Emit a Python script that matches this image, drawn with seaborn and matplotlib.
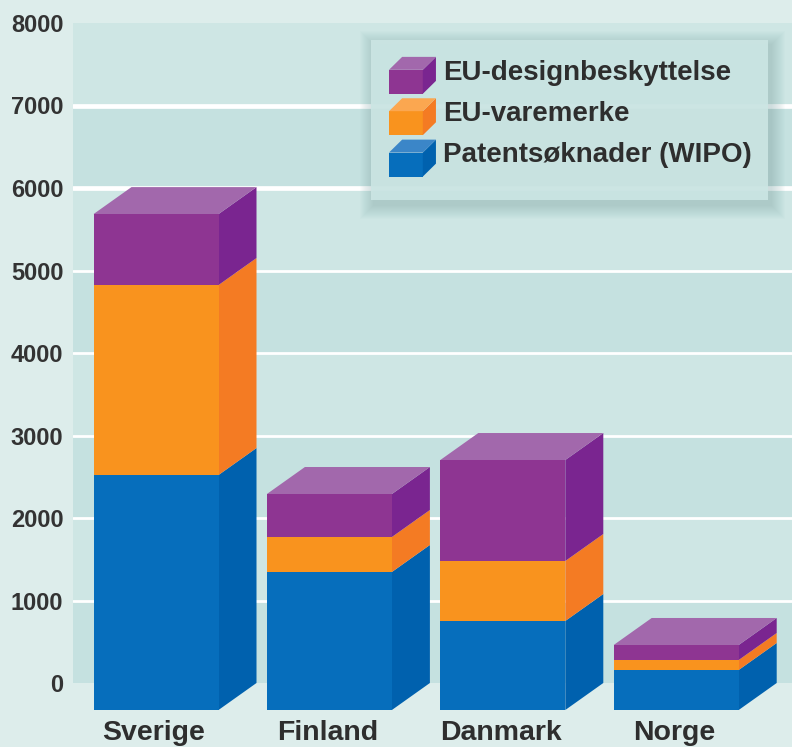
import numpy as np
import pandas as pd
import matplotlib
matplotlib.use('Agg')
import matplotlib.pyplot as plt
import seaborn as sns
from matplotlib.legend_handler import HandlerBase
from matplotlib.patches import Patch, Polygon, Rectangle
from matplotlib.transforms import IdentityTransform, ScaledTranslation

countries = ['Sverige', 'Finland', 'Danmark', 'Norge']
series_names = ['Patentsøknader (WIPO)', 'EU-varemerke', 'EU-designbeskyttelse']
patents = [2848, 1673, 1079, 485]
trademarks = [2303, 424, 727, 121]
designs = [860, 521, 1224, 182]
y_ticks = [0, 1000, 2000, 3000, 4000, 5000, 6000, 7000, 8000]

front_colors = ['#066EBC', '#F9931E', '#8E3592']
side_colors = ['#0061AE', '#F47B23', '#7A2590']
top_colors = ['#3B86C8', '#FBA750', '#A268AC']

W, H = 792, 747
PANEL_L, PANEL_R, PANEL_T, PANEL_B = 73, 792, 23, 683
BAR_STEP = 173.4
BAR_W = 125 / BAR_STEP
DEPTH_X = 38 / BAR_STEP
DEPTH_Y = 27 / 82.5 * 1000

sns.set_style('white')
plt.rcParams['font.family'] = ['Liberation Sans', 'DejaVu Sans']

df = pd.DataFrame({'land': countries, 'patents': patents,
                   'trademarks': trademarks, 'designs': designs})
df['c1'] = df['patents']
df['c2'] = df['c1'] + df['trademarks']
df['c3'] = df['c2'] + df['designs']
levels = ['c1', 'c2', 'c3']

fig = plt.figure(figsize=(W / 100, H / 100), dpi=100, facecolor='#DDEDEB')
ax = fig.add_axes([PANEL_L / W, 1 - PANEL_B / H, (PANEL_R - PANEL_L) / W, (PANEL_B - PANEL_T) / H])
ax.set_facecolor('#CBE3E2')

# bands and white grid, the upper lines are thicker
for lo, hi in zip(y_ticks[:-1], y_ticks[1:]):
    ax.axhspan(lo, hi, color='#C5E1E0' if lo // 1000 % 2 == 0 else '#CEE6E4', lw=0, zorder=0)
for t in y_ticks[1:-1]:
    ax.axhline(t, color='white', lw=3.4 if t >= 6000 else 2.0, zorder=1)

# front faces: tallest first, smaller ones painted over it
for level, color in zip(levels[::-1], front_colors[::-1]):
    sns.barplot(data=df, x='land', y=level, color=color, saturation=1, width=BAR_W,
                bottom=-DEPTH_Y, clip_on=False, linewidth=0, zorder=4, ax=ax)

# side and top faces
for i, row in df.iterrows():
    xr = i + BAR_W / 2
    xl = i - BAR_W / 2
    lo = 0
    for level, color in zip(levels, side_colors):
        hi = row[level]
        ax.add_patch(Polygon([(xr, lo - DEPTH_Y), (xr + DEPTH_X, lo), (xr + DEPTH_X, hi), (xr, hi - DEPTH_Y)],
                             fc=color, lw=0, zorder=3, clip_on=False))
        lo = hi
    ax.add_patch(Polygon([(xl, lo - DEPTH_Y), (xr, lo - DEPTH_Y), (xr + DEPTH_X, lo), (xl + DEPTH_X, lo)],
                         fc=top_colors[2], lw=0, zorder=3, clip_on=False))

ax.set_xlim((PANEL_L - 156) / BAR_STEP, (PANEL_R - 156) / BAR_STEP)
ax.set_ylim(0, 8000)
ax.set_yticks(y_ticks)
ax.set_xlabel('')
ax.set_ylabel('')
ax.tick_params(axis='y', length=0, pad=7, labelsize=17, labelcolor='#333333')
ax.tick_params(axis='x', length=0, pad=27, labelsize=20.5, labelcolor='#2E2E2E')
nudge = ScaledTranslation(-2 / 100, 0, fig.dpi_scale_trans)
for lab in ax.get_xticklabels():
    lab.set_fontweight('bold')
    lab.set_transform(lab.get_transform() + nudge)
for lab in ax.get_yticklabels():
    lab.set_fontweight('bold')
sns.despine(ax=ax, left=True, bottom=True)

# legend box with soft shadow, in pixels
px = IdentityTransform()
box = (371, H - 200, 397, 160)
for g in range(14, 0, -1):
    fig.add_artist(Rectangle((box[0] - g + 3, box[1] - g - 5), box[2] + 2 * g, box[3] + 2 * g,
                             transform=px, fc='#6A9A9B', alpha=0.022, lw=0, zorder=5))
fig.add_artist(Rectangle(box[:2], box[2], box[3], transform=px, fc='#CCE6E4', alpha=0.9, lw=0, zorder=6))


class CubeHandler(HandlerBase):
    def create_artists(self, legend, orig_handle, xdescent, ydescent, width, height, fontsize, trans):
        i = orig_handle.cube_index
        x0, y0 = -xdescent, -ydescent
        full_h = height + ydescent
        fx = x0 + width * 0.72
        fy = y0 + full_h * 0.65
        x1, y1 = x0 + width, y0 + full_h
        dy = y1 - fy
        front = Polygon([(x0, y0), (fx, y0), (fx, fy), (x0, fy)], fc=front_colors[i], lw=0, transform=trans)
        side = Polygon([(fx, y0), (x1, y0 + dy), (x1, y1), (fx, fy)], fc=side_colors[i], lw=0, transform=trans)
        top = Polygon([(x0, fy), (fx, fy), (x1, y1), (x1 - (fx - x0), y1)], fc=top_colors[i], lw=0, transform=trans)
        return [front, side, top]


handles = []
for i in [2, 1, 0]:
    h = Patch(color=front_colors[i], label=series_names[i])
    h.cube_index = i
    handles.append(h)

leg = fig.legend(handles=handles, handler_map={Patch: CubeHandler()}, loc='upper left',
                 bbox_to_anchor=(389, H - 63), bbox_transform=px, frameon=False,
                 borderpad=0, borderaxespad=0, handlelength=1.69, handleheight=1.33,
                 labelspacing=0.38, handletextpad=0.25, prop={'weight': 'bold', 'size': 20})
leg.set_zorder(7)
for t in leg.get_texts():
    t.set_color('#2E2E2E')
    t.set_y(8)

fig.savefig('out.png', dpi=100, facecolor=fig.get_facecolor())
